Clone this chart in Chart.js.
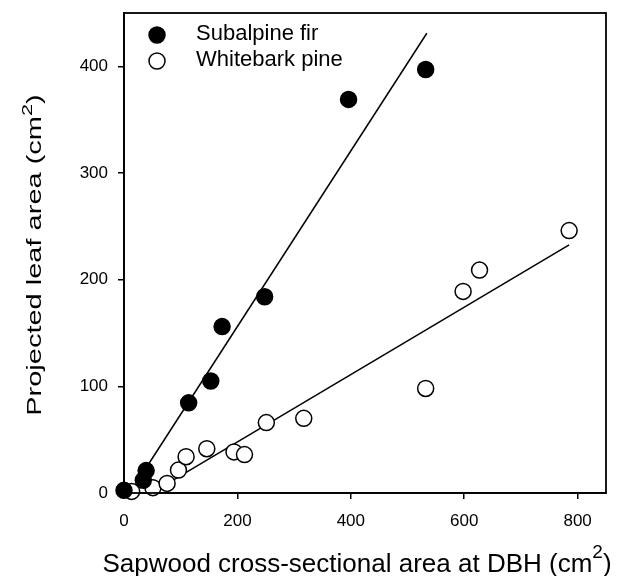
<!DOCTYPE html>
<html>
<head>
<meta charset="utf-8">
<script src="https://cdn.jsdelivr.net/npm/chart.js@4.4.1/dist/chart.umd.min.js"></script>
<style>
  html, body { margin: 0; padding: 0; background: #fff; }
  #wrap { width: 631px; height: 576px; position: relative; }
</style>
</head>
<body>
<div id="wrap"><canvas id="c" width="631" height="576"></canvas></div>
<script>
// Sapwood area (cm2) vs projected leaf area (cm2)
const firSapwood = [0, 34, 39, 114, 153, 173, 248, 396, 532];
const firLeaf    = [2.5, 12, 21, 84.5, 105, 156, 184, 369, 397];
const pineSapwood = [13.5, 51, 76, 96, 109.5, 146, 194, 212.5, 251, 317, 532, 598, 627, 785];
const pineLeaf    = [1.5, 5, 9, 21.5, 34, 41.5, 38.5, 36, 66, 70, 98, 189, 209, 246];

// fitted regression lines (end points)
const firFitX = [40, 534];
const firFitY = [24.4, 431];
const pineFitX = [80, 785];
const pineFitY = [10, 232.6];

const xTicks = [0, 200, 400, 600, 800];
const yTicks = [0, 100, 200, 300, 400];

const seriesNames = ['Subalpine fir', 'Whitebark pine'];
const xTitle = ['Sapwood cross-sectional area at DBH (cm', '2', ')'];
const yTitle = ['Projected leaf area (cm', '2', ')'];

const toPts = (xs, ys) => xs.map((x, i) => ({ x: x, y: ys[i] }));

const FONT = '"Liberation Sans", Arial, sans-serif';

// text with a raised "2", centred on the current origin
function drawSupText(ctx, parts, size, supSize, rise) {
  ctx.font = size + 'px ' + FONT;
  const w0 = ctx.measureText(parts[0]).width;
  const w2 = ctx.measureText(parts[2]).width;
  ctx.font = supSize + 'px ' + FONT;
  const w1 = ctx.measureText(parts[1]).width;
  const total = w0 + w1 + w2;
  let x = -total / 2;
  ctx.textBaseline = 'alphabetic';
  ctx.textAlign = 'left';
  ctx.font = size + 'px ' + FONT;
  ctx.fillText(parts[0], x, 0);
  x += w0;
  ctx.font = supSize + 'px ' + FONT;
  ctx.fillText(parts[1], x, -rise);
  x += w1;
  ctx.font = size + 'px ' + FONT;
  ctx.fillText(parts[2], x, 0);
}

const decorations = {
  id: 'decorations',
  afterDraw(chart) {
    const ctx = chart.ctx;
    const a = chart.chartArea;
    ctx.save();
    // frame around the plot
    ctx.strokeStyle = '#000';
    ctx.lineWidth = 1.8;
    ctx.strokeRect(a.left, a.top, a.right - a.left, a.bottom - a.top);

    ctx.fillStyle = '#000';
    // x axis title
    ctx.save();
    ctx.translate(357, 572);
    drawSupText(ctx, xTitle, 26, 19, 14);
    ctx.restore();
    // y axis title (long, narrow lettering)
    ctx.save();
    ctx.translate(41, 255);
    ctx.rotate(-Math.PI / 2);
    ctx.scale(1.45, 1);
    drawSupText(ctx, yTitle, 20, 15, 9);
    ctx.restore();

    // legend
    const ds = chart.data.datasets;
    const rows = [35, 61];
    for (let i = 0; i < 2; i++) {
      const d = ds[i];
      ctx.beginPath();
      ctx.arc(157, rows[i], d.pointRadius, 0, Math.PI * 2);
      ctx.fillStyle = d.backgroundColor;
      ctx.fill();
      ctx.lineWidth = d.borderWidth;
      ctx.strokeStyle = d.borderColor;
      ctx.stroke();
      ctx.fillStyle = '#000';
      ctx.font = '22px ' + FONT;
      ctx.textBaseline = 'alphabetic';
      ctx.textAlign = 'left';
      ctx.fillText(seriesNames[i], 196, rows[i] + 5);
    }
    ctx.restore();
  }
};

new Chart(document.getElementById('c'), {
  type: 'scatter',
  data: {
    datasets: [
      {
        label: seriesNames[0],
        data: toPts(firSapwood, firLeaf),
        backgroundColor: '#000',
        borderColor: '#000',
        borderWidth: 1.5,
        pointRadius: 8,
        clip: false,
        order: 0
      },
      {
        label: seriesNames[1],
        data: toPts(pineSapwood, pineLeaf),
        backgroundColor: '#fff',
        borderColor: '#000',
        borderWidth: 1.5,
        pointRadius: 8,
        clip: false,
        order: 0
      },
      {
        type: 'line',
        data: toPts(firFitX, firFitY),
        borderColor: '#000',
        borderWidth: 1.5,
        pointRadius: 0,
        fill: false,
        order: 2
      },
      {
        type: 'line',
        data: toPts(pineFitX, pineFitY),
        borderColor: '#000',
        borderWidth: 1.5,
        pointRadius: 0,
        fill: false,
        order: 2
      }
    ]
  },
  options: {
    responsive: false,
    animation: false,
    layout: { padding: { top: 13, right: 25, left: 0, bottom: 0 } },
    plugins: { legend: { display: false }, tooltip: { enabled: false } },
    scales: {
      x: {
        type: 'linear',
        min: 0,
        max: 850,
        afterFit(s) { s.height = 83; s.paddingLeft = 0; s.paddingRight = 0; },
        afterBuildTicks(s) { s.ticks = xTicks.map(v => ({ value: v })); },
        grid: { drawOnChartArea: false, drawTicks: true, tickLength: 6, color: '#000', lineWidth: 1.5 },
        border: { display: true, color: '#000', width: 1.8 },
        ticks: { color: '#000', font: { family: FONT, size: 17 }, padding: 12, maxRotation: 0 }
      },
      y: {
        type: 'linear',
        min: 0,
        max: 450,
        afterFit(s) { s.width = 124; s.paddingTop = 0; s.paddingBottom = 0; },
        afterBuildTicks(s) { s.ticks = yTicks.map(v => ({ value: v })); },
        grid: { drawOnChartArea: false, drawTicks: true, tickLength: 6, color: '#000', lineWidth: 1.5 },
        border: { display: true, color: '#000', width: 1.8 },
        ticks: { color: '#000', font: { family: FONT, size: 17 }, padding: 10 }
      }
    }
  },
  plugins: [decorations]
});
</script>
</body>
</html>
